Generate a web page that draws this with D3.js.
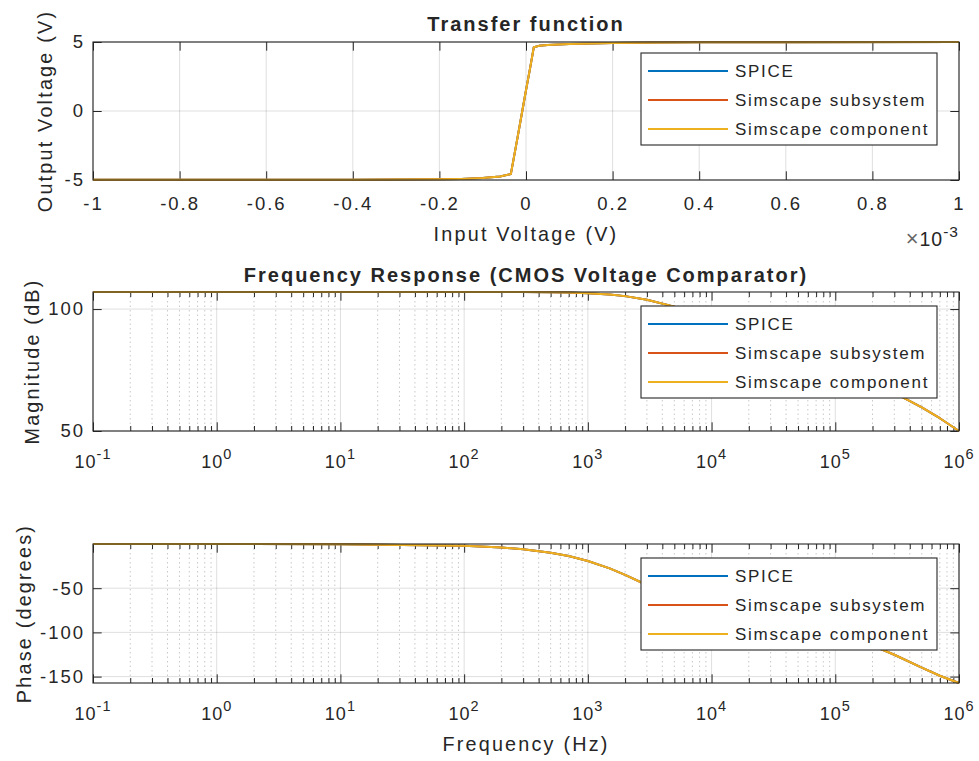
<!DOCTYPE html>
<html><head><meta charset="utf-8">
<script src="https://cdn.jsdelivr.net/npm/d3@7"></script>
<style>
body{margin:0;background:#fff;}
</style></head><body>
<svg id="chart" width="979" height="761"></svg>
<script>
// ---------- data ----------
const seriesNames = ["SPICE", "Simscape subsystem", "Simscape component"];
const seriesColors = ["#0072BD", "#D95319", "#EDB120"];

// Transfer function (input in volts, output in volts)
const inputVoltage = [-1.0e-3, -0.8e-3, -0.6e-3, -0.4e-3, -0.3e-3, -0.2e-3, -0.15e-3, -0.1e-3, -0.06e-3, -0.035e-3, -0.02e-3, -0.01e-3, 0.0, 0.01e-3, 0.018e-3, 0.03e-3, 0.05e-3, 0.1e-3, 0.2e-3, 0.3e-3, 0.4e-3, 0.6e-3, 1.0e-3];
const outputSpice      = [-4.99, -4.985, -4.98, -4.975, -4.965, -4.95, -4.92, -4.86, -4.74, -4.57, -2.0, -0.25, 1.5, 3.2, 4.62, 4.72, 4.79, 4.86, 4.93, 4.96, 4.975, 4.99, 5.0];
const outputSubsystem  = [-4.99, -4.985, -4.98, -4.975, -4.965, -4.95, -4.92, -4.86, -4.74, -4.57, -2.0, -0.25, 1.5, 3.2, 4.62, 4.72, 4.79, 4.86, 4.93, 4.96, 4.975, 4.99, 5.0];
const outputComponent  = [-4.99, -4.985, -4.98, -4.975, -4.965, -4.95, -4.92, -4.86, -4.74, -4.57, -2.0, -0.25, 1.5, 3.2, 4.62, 4.72, 4.79, 4.86, 4.93, 4.96, 4.975, 4.99, 5.0];

// Frequency response
const frequencyHz = [0.1, 1, 10, 100, 150, 200, 300, 500, 700, 1000, 1500, 2000, 3000, 5000, 7000, 1e4, 1.5e4, 2e4, 3e4, 5e4, 7e4, 1e5, 1.5e5, 2e5, 3e5, 5e5, 7e5, 1e6];
const magSpice      = [107.0, 107.0, 107.0, 107.0, 106.99, 106.98, 106.95, 106.87, 106.75, 106.51, 105.97, 105.31, 103.84, 101.01, 98.66, 95.90, 92.57, 90.14, 86.66, 82.22, 79.27, 76.11, 72.43, 69.70, 65.59, 59.70, 55.24, 50.0];
const magSubsystem  = [107.0, 107.0, 107.0, 107.0, 106.99, 106.98, 106.95, 106.87, 106.75, 106.51, 105.97, 105.31, 103.84, 101.01, 98.66, 95.90, 92.57, 90.14, 86.66, 82.22, 79.27, 76.11, 72.43, 69.70, 65.59, 59.70, 55.24, 50.0];
const magComponent  = [107.0, 107.0, 107.0, 107.0, 106.99, 106.98, 106.95, 106.87, 106.75, 106.51, 105.97, 105.31, 103.84, 101.01, 98.66, 95.90, 92.57, 90.14, 86.66, 82.22, 79.27, 76.11, 72.43, 69.70, 65.59, 59.70, 55.24, 50.0];
const phaseSpice     = [-0.002, -0.02, -0.2, -1.99, -2.98, -3.97, -5.95, -9.85, -13.67, -19.17, -27.56, -34.87, -46.38, -60.58, -68.46, -75.21, -81.12, -84.50, -88.60, -93.53, -97.18, -101.86, -108.72, -114.85, -125.25, -139.91, -149.04, -157.24];
const phaseSubsystem = [-0.002, -0.02, -0.2, -1.99, -2.98, -3.97, -5.95, -9.85, -13.67, -19.17, -27.56, -34.87, -46.38, -60.58, -68.46, -75.21, -81.12, -84.50, -88.60, -93.53, -97.18, -101.86, -108.72, -114.85, -125.25, -139.91, -149.04, -157.24];
const phaseComponent = [-0.002, -0.02, -0.2, -1.99, -2.98, -3.97, -5.95, -9.85, -13.67, -19.17, -27.56, -34.87, -46.38, -60.58, -68.46, -75.21, -81.12, -84.50, -88.60, -93.53, -97.18, -101.86, -108.72, -114.85, -125.25, -139.91, -149.04, -157.24];

// Ticks
const transferXTicks = [-1e-3, -0.8e-3, -0.6e-3, -0.4e-3, -0.2e-3, 0, 0.2e-3, 0.4e-3, 0.6e-3, 0.8e-3, 1e-3];
const transferXTickLabels = ["-1", "-0.8", "-0.6", "-0.4", "-0.2", "0", "0.2", "0.4", "0.6", "0.8", "1"];
const transferYTicks = [-5, 0, 5];
const freqTicks = [0.1, 1, 10, 100, 1000, 1e4, 1e5, 1e6];
const freqTickExponents = ["-1", "0", "1", "2", "3", "4", "5", "6"];
const magTicks = [50, 100];
const phaseTicks = [-150, -100, -50];

// ---------- drawing ----------
const FONT = '"Liberation Sans", Arial, Helvetica, sans-serif';
const AX = "#262626";
const svg = d3.select("#chart");
svg.append("rect").attr("width", 979).attr("height", 761).attr("fill", "#fff");

const X0 = 93, X1 = 959, TICK = 8.7;

function styleText(sel, size, ls) {
  sel.attr("font-family", FONT).attr("font-size", size).attr("letter-spacing", ls).attr("fill", AX);
}

function panel(o) {
  const x = o.x, y = o.y;
  const y1 = y.range()[0], y0 = y.range()[1];
  const g = svg.append("g");
  // minor grid (log axes)
  if (o.minor) {
    g.selectAll("line.mg").data(o.minor).join("line")
      .attr("x1", d => x(d)).attr("x2", d => x(d)).attr("y1", y0).attr("y2", y1)
      .attr("stroke", AX).attr("stroke-opacity", 0.25).attr("stroke-dasharray", "1.5,3");
  }
  // major grid
  g.selectAll("line.gx").data(o.xTicks).join("line")
    .attr("x1", d => x(d)).attr("x2", d => x(d)).attr("y1", y0).attr("y2", y1)
    .attr("stroke", AX).attr("stroke-opacity", 0.15);
  g.selectAll("line.gy").data(o.yTicks).join("line")
    .attr("x1", X0).attr("x2", X1).attr("y1", d => y(d)).attr("y2", d => y(d))
    .attr("stroke", AX).attr("stroke-opacity", 0.15);

  // axes ticks
  const bot = g.append("g").attr("transform", `translate(0,${y1})`)
    .call(d3.axisBottom(x).tickValues(o.xTicks).tickSize(-TICK).tickFormat(o.xFormat || (() => "")));
  const topA = g.append("g").attr("transform", `translate(0,${y0})`)
    .call(d3.axisTop(x).tickValues(o.xTicks).tickSize(-TICK).tickFormat(() => ""));
  const left = g.append("g").attr("transform", `translate(${X0},0)`)
    .call(d3.axisLeft(y).tickValues(o.yTicks).tickSize(-TICK).tickPadding(8).tickFormat(d => String(d)));
  const right = g.append("g").attr("transform", `translate(${X1},0)`)
    .call(d3.axisRight(y).tickValues(o.yTicks).tickSize(-TICK).tickFormat(() => ""));
  const axes = [bot, topA, left, right];
  if (o.minor) {
    axes.push(g.append("g").attr("transform", `translate(0,${y1})`)
      .call(d3.axisBottom(x).tickValues(o.minor).tickSize(-5).tickFormat(() => "")));
    axes.push(g.append("g").attr("transform", `translate(0,${y0})`)
      .call(d3.axisTop(x).tickValues(o.minor).tickSize(-5).tickFormat(() => "")));
  }
  axes.forEach(a => {
    a.attr("color", AX).attr("font-family", null).attr("font-size", null);
    a.select(".domain").remove();
  });
  styleText(bot.selectAll("text"), 18.5, 2);
  bot.selectAll("text").attr("y", 30).attr("dy", 0);
  styleText(left.selectAll("text"), 18.5, 2);

  // log tick labels
  if (o.expLabels) {
    const t = g.selectAll("text.loglab").data(o.xTicks).join("text")
      .attr("x", d => x(d)).attr("y", y1 + 37).attr("text-anchor", "middle");
    styleText(t, 18, 1);
    t.append("tspan").text("10");
    t.append("tspan").attr("dy", -9).attr("font-size", 14.5).text((d, i) => o.expLabels[i]);
  }

  // data lines
  const line = d3.line().x(d => x(d[0])).y(d => y(d[1]));
  o.series.forEach((s, i) => {
    g.append("path").datum(d3.zip(o.xData, s))
      .attr("d", line).attr("fill", "none")
      .attr("stroke", seriesColors[i]).attr("stroke-width", 2).attr("stroke-linejoin", "round");
  });

  // box
  g.append("rect").attr("x", X0).attr("y", y0).attr("width", X1 - X0).attr("height", y1 - y0)
    .attr("fill", "none").attr("stroke", AX).attr("stroke-width", 1.1);

  // title
  if (o.title) {
    const t = g.append("text").attr("x", (X0 + X1) / 2).attr("y", o.titleY)
      .attr("text-anchor", "middle").attr("font-weight", "bold").text(o.title);
    styleText(t, 20, 2);
  }
  // y label
  const yl = g.append("text")
    .attr("transform", `translate(${o.yLabelX},${(y0 + y1) / 2}) rotate(-90)`)
    .attr("text-anchor", "middle").attr("dominant-baseline", "central").text(o.yLabel);
  styleText(yl, 19.8, 2.2);
  // x label
  if (o.xLabel) {
    const xl = g.append("text").attr("x", (X0 + X1) / 2).attr("y", o.xLabelY)
      .attr("text-anchor", "middle").attr("dominant-baseline", "central").text(o.xLabel);
    styleText(xl, 19.8, 2.2);
  }

  // legend
  const lg = g.append("g").attr("transform", `translate(641,${o.legendTop})`);
  lg.append("rect").attr("width", 296).attr("height", 92).attr("fill", "#fff")
    .attr("stroke", AX).attr("stroke-width", 1.1);
  seriesNames.forEach((n, i) => {
    const cy = 18 + i * 29;
    lg.append("line").attr("x1", 7).attr("x2", 87).attr("y1", cy).attr("y2", cy)
      .attr("stroke", seriesColors[i]).attr("stroke-width", 2);
    const lt = lg.append("text").attr("x", 94).attr("y", cy).attr("dy", "0.35em").text(n);
    styleText(lt, 17, 1.7);
  });
  return g;
}

// minor tick positions for log axes
const minorFreq = [];
for (let e = -1; e < 6; e++) for (let m = 2; m <= 9; m++) minorFreq.push(m * Math.pow(10, e));

// Panel 1: transfer function
const xT = d3.scaleLinear().domain([inputVoltage[0], inputVoltage[inputVoltage.length - 1]]).range([X0, X1]);
const yT = d3.scaleLinear().domain([-5, 5]).range([180, 42]);
const p1 = panel({
  x: xT, y: yT, xTicks: transferXTicks, yTicks: transferYTicks,
  xFormat: (d, i) => transferXTickLabels[i],
  xData: inputVoltage, series: [outputSpice, outputSubsystem, outputComponent],
  title: "Transfer function", titleY: 31,
  yLabel: "Output Voltage (V)", yLabelX: 45,
  xLabel: "Input Voltage (V)", xLabelY: 234,
  legendTop: 53
});
// exponent multiplier
const mult = p1.append("text").attr("x", 959).attr("y", 246).attr("text-anchor", "end");
styleText(mult, 19.5, 1);
mult.append("tspan").attr("font-size", 22).attr("fill", "#666").text("\u00d7");
mult.append("tspan").text("10");
mult.append("tspan").attr("dy", -9).attr("font-size", 15.5).text("-3");

// Panel 2: magnitude
const xF = d3.scaleLog().domain([frequencyHz[0], frequencyHz[frequencyHz.length - 1]]).range([X0, X1]);
const yM = d3.scaleLinear().domain(d3.extent(magComponent)).range([431, 292]);
panel({
  x: xF, y: yM, xTicks: freqTicks, yTicks: magTicks, minor: minorFreq,
  expLabels: freqTickExponents,
  xData: frequencyHz, series: [magSpice, magSubsystem, magComponent],
  title: "Frequency Response (CMOS Voltage Comparator)", titleY: 282,
  yLabel: "Magnitude (dB)", yLabelX: 32,
  legendTop: 306
});

// Panel 3: phase
const yP = d3.scaleLinear().domain(d3.extent(phaseComponent)).range([683, 544]);
panel({
  x: xF, y: yP, xTicks: freqTicks, yTicks: phaseTicks, minor: minorFreq,
  expLabels: freqTickExponents,
  xData: frequencyHz, series: [phaseSpice, phaseSubsystem, phaseComponent],
  yLabel: "Phase (degrees)", yLabelX: 24,
  xLabel: "Frequency (Hz)", xLabelY: 744,
  legendTop: 558
});
</script>
</body></html>
